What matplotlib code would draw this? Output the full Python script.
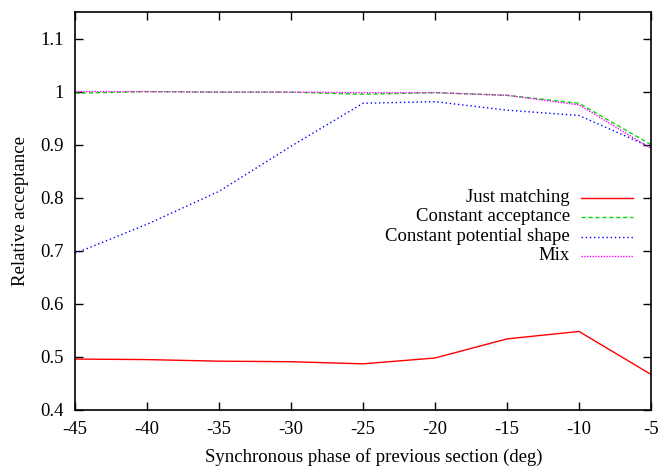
import matplotlib
matplotlib.use("Agg")
import matplotlib.pyplot as plt
from matplotlib.lines import Line2D

plt.rcParams['font.family'] = ['Liberation Serif', 'DejaVu Serif']
plt.rcParams['font.size'] = 13.5
plt.rcParams['axes.unicode_minus'] = False

# synchronous phase of the previous section (deg)
phase = [-45, -40, -35, -30, -25, -20, -15, -10, -5]

# relative acceptance for each matching scheme
just_matching = [0.496, 0.495, 0.492, 0.491, 0.487, 0.498, 0.534, 0.548, 0.467]
const_acceptance = [0.997, 1.000, 0.999, 0.999, 0.995, 0.998, 0.993, 0.978, 0.900]
const_potential = [0.695, 0.750, 0.812, 0.897, 0.978, 0.981, 0.965, 0.955, 0.895]
mix = [1.000, 1.000, 0.999, 0.999, 0.998, 0.998, 0.993, 0.975, 0.893]

labels = ["Just matching", "Constant acceptance",
          "Constant potential shape", "Mix"]

fig = plt.figure(figsize=(6.68, 4.69), dpi=100)
ax = fig.add_axes([75 / 668, 59 / 469, 576 / 668, 398 / 469])

styles = [
    dict(color='#ff0000', linestyle='-'),
    dict(color='#00dd00', linestyle=(0, (3, 2))),
    dict(color='#0000ff', linestyle=(0, (1, 2))),
    dict(color='#ff00ff', linestyle=(0, (1, 1))),
]
series = [just_matching, const_acceptance, const_potential, mix]

for ys, st in zip(series, styles):
    ax.plot(phase, ys, linewidth=1.0, **st)

# gnuplot-style key: right-aligned text with sample line on the right
key_y = [0.533, 0.485, 0.435, 0.387]
for lab, st, ky in zip(labels, styles, key_y):
    ax.text(0.859, ky, lab, transform=ax.transAxes, ha='right', va='center')
    ax.add_line(Line2D([0.878, 0.969], [ky, ky], transform=ax.transAxes,
                       linewidth=1.0, **st))

ax.set_xlim(-45, -5)
ax.set_ylim(0.4, 1.15)
ax.set_xticks(range(-45, 0, 5))
ax.set_yticks([0.4, 0.5, 0.6, 0.7, 0.8, 0.9, 1.0, 1.1])
ax.set_yticklabels(['0.4', '0.5', '0.6', '0.7', '0.8', '0.9', '1', '1.1'])
ax.tick_params(direction='in', top=True, right=True, length=6, width=1,
               pad=8)
for s in ax.spines.values():
    s.set_linewidth(1.2)

ax.set_xlabel("Synchronous phase of previous section (deg)", labelpad=7)
ax.xaxis.label.set_x(0.519)
ax.set_ylabel("Relative acceptance", labelpad=8)

fig.savefig("out.png", dpi=100)
